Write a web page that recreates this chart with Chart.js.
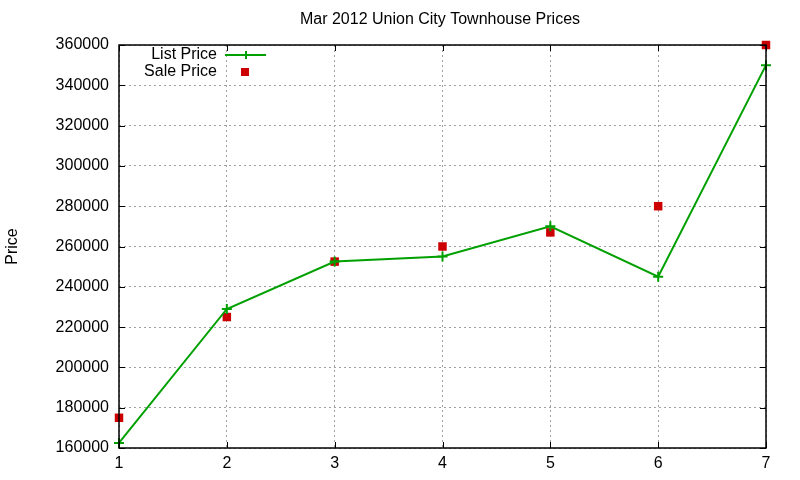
<!DOCTYPE html>
<html lang="en">
<head>
    <meta charset="UTF-8">
    <title>Mar 2012 Union City Townhouse Prices</title>
    <script src="https://cdn.jsdelivr.net/npm/chart.js"></script>
    <style>
        html, body { margin: 0; padding: 0; background: #fff; }
        #box { width: 800px; height: 480px; }
    </style>
</head>
<body>
    <div id="box"><canvas id="priceChart"></canvas></div>

    <script>
// donnees
const months = [1, 2, 3, 4, 5, 6, 7];
const listPrice = [162500, 229000, 252500, 255000, 270000, 245000, 350000];
const salePrice = [175000, 225000, 252500, 260000, 267000, 280000, 360000];
const xTicks = [1, 2, 3, 4, 5, 6, 7];
const yTicks = [160000, 180000, 200000, 220000, 240000, 260000, 280000, 300000, 320000, 340000, 360000];

const FONT = '"Liberation Sans", Arial, sans-serif';

// cadre, petites graduations, titre et legende facon gnuplot
const gnuplotDeco = {
    id: 'gnuplotDeco',
    afterDraw(chart) {
        const ctx = chart.ctx;
        const a = chart.chartArea;
        const xs = chart.scales.x, ys = chart.scales.y;
        ctx.save();
        ctx.strokeStyle = '#000';
        ctx.lineWidth = 1;
        ctx.beginPath();
        yTicks.forEach(v => {
            const y = Math.round(ys.getPixelForValue(v)) + 0.5;
            ctx.moveTo(a.left, y); ctx.lineTo(a.left + 6, y);
            ctx.moveTo(a.right, y); ctx.lineTo(a.right - 6, y);
        });
        xTicks.forEach(v => {
            const x = Math.round(xs.getPixelForValue(v)) + 0.5;
            ctx.moveTo(x, a.bottom); ctx.lineTo(x, a.bottom - 6);
            ctx.moveTo(x, a.top); ctx.lineTo(x, a.top + 6);
        });
        ctx.stroke();
        ctx.lineWidth = 1.5;
        ctx.strokeRect(a.left, a.top, a.right - a.left, a.bottom - a.top);

        // titre
        ctx.fillStyle = '#000';
        ctx.font = '16px ' + FONT;
        ctx.textAlign = 'center';
        ctx.textBaseline = 'middle';
        ctx.fillText('Mar 2012 Union City Townhouse Prices', 440, 20);

        // legende
        ctx.textAlign = 'right';
        ctx.fillText('List Price', 217, 55);
        ctx.fillText('Sale Price', 217, 72);
        ctx.strokeStyle = '#00a000';
        ctx.lineWidth = 2;
        ctx.beginPath();
        ctx.moveTo(225, 55); ctx.lineTo(266, 55);
        ctx.moveTo(246, 51); ctx.lineTo(246, 59);
        ctx.stroke();
        ctx.fillStyle = '#cc0000';
        ctx.fillRect(241, 68, 8, 8);
        ctx.restore();
    }
};

const ctx = document.getElementById('priceChart').getContext('2d');
const priceChart = new Chart(ctx, {
    type: 'line',
    data: {
        datasets: [
            {
                label: 'List Price',
                data: months.map((m, i) => ({x: m, y: listPrice[i]})),
                borderColor: '#00a000',
                backgroundColor: '#00a000',
                borderWidth: 2,
                pointStyle: 'cross',
                pointRadius: 5,
                pointBorderWidth: 2,
                tension: 0,
                clip: false
            },
            {
                label: 'Sale Price',
                data: months.map((m, i) => ({x: m, y: salePrice[i]})),
                showLine: false,
                borderColor: '#cc0000',
                backgroundColor: '#cc0000',
                pointStyle: 'rect',
                pointRadius: 6,
                pointBorderWidth: 0,
                clip: false
            }
        ]
    },
    options: {
        responsive: true,
        maintainAspectRatio: false,
        animation: false,
        layout: { padding: { top: 45, right: 34, left: 0, bottom: 0 } },
        plugins: {
            legend: { display: false },
            tooltip: { enabled: false }
        },
        scales: {
            x: {
                type: 'linear',
                min: 1,
                max: 7,
                afterBuildTicks: s => { s.ticks = xTicks.map(v => ({value: v})); },
                afterFit: s => { s.height = 32; },
                ticks: { color: '#000', padding: 6, font: { family: FONT, size: 16 }, callback: v => String(v) },
                grid: { color: '#a0a0a0', drawTicks: false, lineWidth: 1 },
                border: { display: false, dash: [2, 3] }
            },
            y: {
                min: 160000,
                max: 360000,
                afterBuildTicks: s => { s.ticks = yTicks.map(v => ({value: v})); },
                afterFit: s => { s.width = 119; },
                ticks: { color: '#000', padding: 10, font: { family: FONT, size: 16 }, callback: v => String(v) },
                grid: { color: '#a0a0a0', drawTicks: false, lineWidth: 1 },
                border: { display: false, dash: [2, 3] },
                title: {
                    display: true,
                    text: 'Price',
                    color: '#000',
                    font: { family: FONT, size: 16 },
                    padding: { top: 3, bottom: 0 }
                }
            }
        }
    },
    plugins: [gnuplotDeco]
});
    </script>
</body>
</html>
